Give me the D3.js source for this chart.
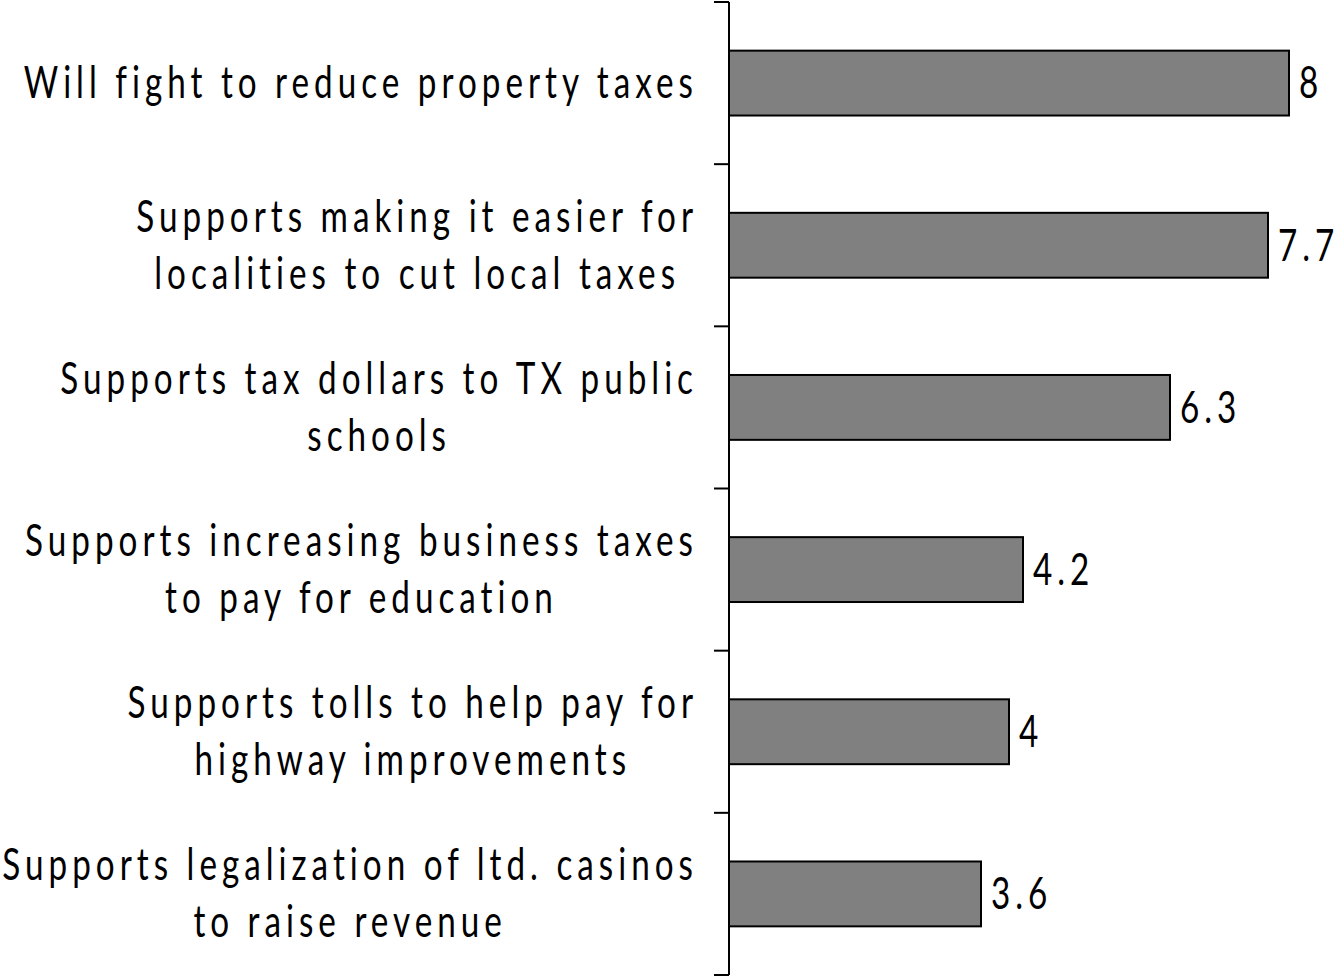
<!DOCTYPE html>
<html>
<head>
<meta charset="utf-8">
<script src="https://cdn.jsdelivr.net/npm/d3@7"></script>
<style>
  body { margin: 0; background: #fff; }
  text { font-family: Lato, "Liberation Sans", Arial, sans-serif; fill: #000; }
</style>
</head>
<body>
<script>
// categories, one entry per bar (lines of the wrapped label)
var categories = [
  ["Will fight to reduce property taxes"],
  ["Supports making it easier for", "localities to cut local taxes"],
  ["Supports tax dollars to TX public", "schools"],
  ["Supports increasing business taxes", "to pay for education"],
  ["Supports tolls to help pay for", "highway improvements"],
  ["Supports legalization of ltd. casinos", "to raise revenue"]
];
var values = [8, 7.7, 6.3, 4.2, 4, 3.6];
var valueLabels = ["8", "7.7", "6.3", "4.2", "4", "3.6"];

var W = 1339, H = 978;
var margin = {top: 2, left: 729, right: 50, bottom: 3};
// condensed, letter-spaced look: horizontal squeeze + wide tracking
var fontSize = 44, spacing = 6.6, squeeze = 0.756;

var svg = d3.select("body").append("svg")
    .attr("width", W)
    .attr("height", H);

var keys = categories.map(function(d, i) { return "c" + i; });

var y = d3.scaleBand()
    .domain(keys)
    .range([margin.top, H - margin.bottom])
    .paddingInner(0.6)
    .paddingOuter(0.3);

var x = d3.scaleLinear()
    .domain([0, 8])
    .range([margin.left, 1289]);

var step = y.step();

// axis line + ticks at band boundaries
svg.append("line")
    .attr("x1", margin.left).attr("x2", margin.left)
    .attr("y1", margin.top).attr("y2", H - margin.bottom)
    .attr("stroke", "#000").attr("stroke-width", 2);

d3.range(keys.length + 1).forEach(function(i) {
  var ty = margin.top + i * step;
  svg.append("line")
      .attr("x1", margin.left - 15).attr("x2", margin.left)
      .attr("y1", ty).attr("y2", ty)
      .attr("stroke", "#000").attr("stroke-width", 2);
});

// bars
svg.selectAll("rect.bar")
    .data(values)
  .enter().append("rect")
    .attr("class", "bar")
    .attr("x", x(0))
    .attr("y", function(d, i) { return y(keys[i]); })
    .attr("width", function(d) { return x(d) - x(0); })
    .attr("height", y.bandwidth())
    .attr("fill", "#808080")
    .attr("stroke", "#000")
    .attr("stroke-width", 2);

// value labels
svg.selectAll("g.val")
    .data(values)
  .enter().append("g")
    .attr("class", "val")
    .attr("transform", function(d, i) {
      return "translate(" + (x(d) + 10) + "," + (y(keys[i]) + y.bandwidth() / 2) + ") scale(" + squeeze + ",1)";
    })
  .append("text")
    .attr("dy", "0.35em")
    .style("font-size", fontSize + "px")
    .style("letter-spacing", spacing + "px")
    .text(function(d, i) { return valueLabels[i]; });

// category labels: block centred, block right edge at 693
var lineH = 57;
categories.forEach(function(lines, i) {
  var cy = y(keys[i]) + y.bandwidth() / 2;
  var g = svg.append("g");
  var texts = lines.map(function(l, j) {
    return g.append("text")
        .attr("text-anchor", "middle")
        .attr("x", 0)
        .attr("y", (j - (lines.length - 1) / 2) * lineH)
        .attr("dy", "0.34em")
        .style("font-size", fontSize + "px")
        .style("letter-spacing", spacing + "px")
        .text(l);
  });
  var maxW = d3.max(texts, function(t) { return t.node().getComputedTextLength() - spacing; }) * squeeze;
  g.attr("transform", "translate(" + (693 - maxW / 2) + "," + cy + ") scale(" + squeeze + ",1)");
  texts.forEach(function(t) { t.attr("x", spacing / 2); });
});
</script>
</body>
</html>
